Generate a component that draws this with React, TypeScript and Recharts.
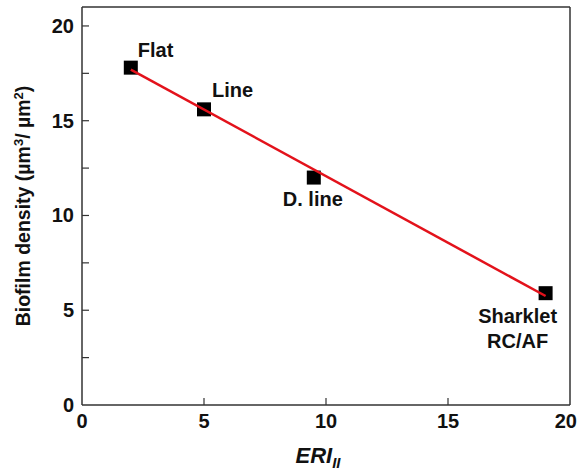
import React from "react";
import {
  ScatterChart,
  Scatter,
  XAxis,
  YAxis,
  ReferenceLine,
  LabelList,
} from "recharts";

// measured points
const eri = [2, 5, 9.5, 19];
const density = [17.8, 15.6, 12.0, 5.9];
const names = ["Flat", "Line", "D. line", "Sharklet\nRC/AF"];

// linear fit end points
const fitX = [2, 19];
const fitY = [17.7, 5.75];

const xTicks = [0, 5, 10, 15, 20];
const yTicks = [0, 2.5, 5, 7.5, 10, 12.5, 15, 17.5, 20];

const points = eri.map((x, i) => ({ x, y: density[i], name: names[i] }));
const fit = fitX.map((x, i) => ({ x, y: fitY[i] }));

const labelOffsets: Record<string, { dx: number; dy: number; anchor: string }> = {
  Flat: { dx: 7, dy: -11, anchor: "start" },
  Line: { dx: 8, dy: -12, anchor: "start" },
  "D. line": { dx: -1, dy: 28, anchor: "middle" },
  "Sharklet\nRC/AF": { dx: -28, dy: 30, anchor: "middle" },
};

const FONT = "'Liberation Sans', Arial, sans-serif";
const AXIS = "#333";

const Square = (props: any) => {
  const { cx, cy } = props;
  return <rect x={cx - 7} y={cy - 7} width={14} height={14} fill="#000" />;
};

const YTick = (props: any) => {
  const { x, y, payload } = props;
  const v = payload.value;
  const major = v % 5 === 0;
  return (
    <g>
      {v > 0 && v < 21 && (
        <line x1={x} x2={x + 7} y1={y} y2={y} stroke={AXIS} strokeWidth={1.2} />
      )}
      {major && (
        <text
          x={x - 8}
          y={y + 7}
          textAnchor="end"
          fontFamily={FONT}
          fontWeight="bold"
          fontSize={20}
          fill="#111"
        >
          {v}
        </text>
      )}
    </g>
  );
};

const XTick = (props: any) => {
  const { x, y, payload } = props;
  const v = payload.value;
  const last = v === 20;
  return (
    <g>
      {v > 0 && v < 20 && (
        <line x1={x} x2={x} y1={y} y2={y - 7} stroke={AXIS} strokeWidth={1.2} />
      )}
      <text
        x={last ? x + 7 : x}
        y={y + 23}
        textAnchor={last ? "end" : "middle"}
        fontFamily={FONT}
        fontWeight="bold"
        fontSize={20}
        fill="#111"
      >
        {v}
      </text>
    </g>
  );
};

const PointLabel = (props: any) => {
  const { x, y, width, height, value } = props;
  const cx = x + (width || 0) / 2;
  const cy = y + (height || 0) / 2;
  const o = labelOffsets[value];
  const lines = String(value).split("\n");
  return (
    <text
      x={cx + o.dx}
      y={cy + o.dy}
      textAnchor={o.anchor as any}
      fontFamily={FONT}
      fontWeight="bold"
      fontSize={20}
      fill="#111"
    >
      {lines.map((l, i) => (
        <tspan key={i} x={cx + o.dx} dy={i === 0 ? 0 : 25}>
          {l}
        </tspan>
      ))}
    </text>
  );
};

export default function App() {
  return (
    <div style={{ position: "absolute", left: 0, top: 0, background: "#fff" }}>
      <ScatterChart
        width={579}
        height={474}
        margin={{ top: 7, right: 9, bottom: 0, left: 0 }}
      >
        <XAxis
          type="number"
          dataKey="x"
          domain={[0, 20]}
          ticks={xTicks}
          tickSize={0}
          tickMargin={0}
          tickLine={false}
          tick={<XTick />}
          height={69}
          stroke={AXIS}
          strokeWidth={1.5}
          allowDataOverflow
        />
        <YAxis
          type="number"
          dataKey="y"
          domain={[0, 21]}
          ticks={yTicks}
          interval={0}
          tickSize={0}
          tickMargin={0}
          tickLine={false}
          tick={<YTick />}
          width={82}
          stroke={AXIS}
          strokeWidth={1.5}
          allowDataOverflow
        />
        <ReferenceLine y={21} stroke={AXIS} strokeWidth={1.5} />
        <ReferenceLine x={20} stroke={AXIS} strokeWidth={1.5} />
        <Scatter data={points} shape={<Square />} isAnimationActive={false}>
          <LabelList dataKey="name" content={<PointLabel />} />
        </Scatter>
        <Scatter
          data={fit}
          line={{ stroke: "#e3121b", strokeWidth: 2.5 }}
          shape={() => <g />}
          isAnimationActive={false}
        />
        <text
          transform="translate(30, 206) rotate(-90)"
          textAnchor="middle"
          fontFamily={FONT}
          fontWeight="bold"
          fontSize={19.5}
          fill="#111"
        >
          Biofilm density (µm
          <tspan dy={-7} fontSize={13}>3</tspan>
          <tspan dy={7}>/ µm</tspan>
          <tspan dy={-7} fontSize={13}>2</tspan>
          <tspan dy={7}>)</tspan>
        </text>
        <text
          x={318}
          y={463}
          textAnchor="middle"
          fontFamily={FONT}
          fontWeight="bold"
          fontStyle="italic"
          fontSize={22}
          fill="#111"
        >
          ERI
          <tspan dy={5} fontSize={15}>II</tspan>
        </text>
      </ScatterChart>
    </div>
  );
}
